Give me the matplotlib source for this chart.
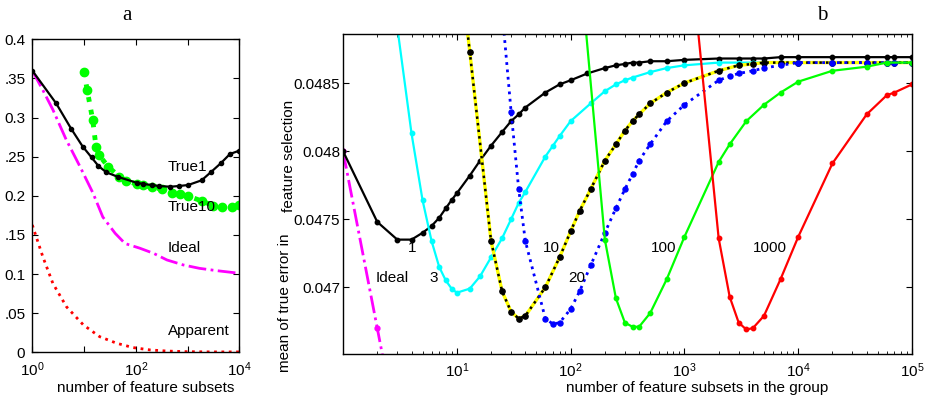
import numpy as np
import matplotlib
matplotlib.use('Agg')
import matplotlib.pyplot as plt
from matplotlib.ticker import LogLocator, NullLocator, FixedLocator, FixedFormatter, NullFormatter

plt.rcParams['font.family'] = ['Liberation Sans', 'DejaVu Sans']
plt.rcParams['mathtext.default'] = 'regular'
plt.rcParams['font.size'] = 11

# ---------------- panel a data ----------------
a_true1_x = [1, 2.9, 5.6, 9.4, 14, 19, 27, 46, 104, 140, 203, 285, 460, 684, 1030, 1870, 2800, 4370, 6600, 10000]
a_true1_y = [0.360, 0.318, 0.286, 0.263, 0.249, 0.238, 0.230, 0.224, 0.2167, 0.2151, 0.2138, 0.2125, 0.2116,
             0.2125, 0.2138, 0.2198, 0.230, 0.2415, 0.2534, 0.2577]
a_true10_x = [10, 11.5, 14.7, 17, 19.5, 29.5, 48, 66, 104, 140, 203, 316, 490, 710, 1030, 1870, 3160, 4600, 7200, 10000]
a_true10_y = [0.3586, 0.335, 0.297, 0.263, 0.252, 0.237, 0.2244, 0.219, 0.215, 0.2134, 0.2108, 0.2087, 0.204,
              0.2019, 0.1997, 0.1934, 0.1875, 0.186, 0.186, 0.188]
a_ideal_x = [1, 1.6, 2.5, 4.5, 8.4, 15, 23, 40, 62, 120, 220, 400, 830, 1700, 3700, 10000]
a_ideal_y = [0.36, 0.335, 0.31, 0.272, 0.237, 0.203, 0.173, 0.152, 0.139, 0.133, 0.1265, 0.118, 0.1116,
             0.1073, 0.1043, 0.101]
a_app_x = [1, 1.6, 2.5, 4.6, 9.7, 20, 43, 89, 190, 400, 1000, 3000, 10000]
a_app_y = [0.1627, 0.122, 0.088, 0.058, 0.035, 0.020, 0.0115, 0.006, 0.003, 0.0016, 0.0008, 0.0005, 0.0005]
a_yticks = [0, 0.05, 0.1, 0.15, 0.2, 0.25, 0.3, 0.35, 0.4]
a_yticklabels = ['0', '.05', '0.1', '.15', '0.2', '.25', '0.3', '.35', '0.4']

# ---------------- panel b data ----------------
b_ideal_x = [1, 2, 3]
b_ideal_y = [0.04800, 0.04670, 0.04594]

b1_x = [1, 2, 3, 4, 5, 6, 7, 8, 9, 10, 13, 16, 20, 25, 30, 35, 40, 60, 80, 100, 140, 200, 250, 300, 350, 400,
        500, 700, 1000, 2000, 3000, 4000, 5000, 7000, 10000, 20000, 40000, 60000, 70000, 100000]
b1_y = [0.04800, 0.04748, 0.04735, 0.04735, 0.04740, 0.04745, 0.04751, 0.04758, 0.04764, 0.04769, 0.04782,
        0.04793, 0.04804, 0.04814, 0.04822, 0.04827, 0.04832, 0.04843, 0.04849, 0.04852, 0.04857, 0.04861,
        0.04863, 0.04864, 0.04865, 0.04865, 0.04866, 0.04866, 0.04867, 0.04868, 0.04868, 0.04868, 0.04868,
        0.04869, 0.04869, 0.04869, 0.04869, 0.04869, 0.04869, 0.04869]

b3_x = [3, 4, 5, 6, 7, 8, 9, 10, 13, 16, 20, 25, 30, 35, 40, 60, 70, 80, 100, 150, 200, 250, 300, 350, 500,
        700, 1000, 2000, 3000, 4000, 5000, 7000, 10000, 20000, 40000, 60000, 70000, 100000]
b3_y = [0.04891, 0.04813, 0.04764, 0.04734, 0.04715, 0.04705, 0.04699, 0.04696, 0.04699, 0.04708, 0.04722,
        0.04736, 0.04750, 0.04762, 0.04770, 0.04796, 0.04804, 0.04811, 0.04822, 0.04835, 0.04844, 0.04849,
        0.04852, 0.04854, 0.04858, 0.04861, 0.04863, 0.04865, 0.04865, 0.04865, 0.04865, 0.04865, 0.04865,
        0.04865, 0.04865, 0.04865, 0.04865, 0.04865]

b10_x = [12, 13, 20, 25, 30, 35, 40, 60, 80, 100, 120, 150, 200, 250, 300, 350, 400, 500, 700, 1000, 2000,
         3000, 4000, 5000, 7000, 10000, 20000, 40000, 60000, 70000, 100000]
b10_y = [0.04898, 0.04873, 0.04734, 0.04697, 0.04682, 0.04677, 0.04679, 0.04700, 0.04722, 0.04741, 0.04756,
         0.04772, 0.04793, 0.04805, 0.04815, 0.04822, 0.04827, 0.04835, 0.04843, 0.04850, 0.04859, 0.04863,
         0.04864, 0.04865, 0.04865, 0.04865, 0.04865, 0.04865, 0.04865, 0.04865, 0.04865]

b20_x = [25, 30, 35, 40, 60, 70, 80, 100, 120, 150, 200, 250, 300, 350, 400, 500, 700, 1000, 2000, 2500, 3000,
         4000, 5000, 7000, 10000, 20000, 40000, 60000, 70000, 100000]
b20_y = [0.04903, 0.04829, 0.04772, 0.04734, 0.04677, 0.04673, 0.04674, 0.04684, 0.04697, 0.04716, 0.04740,
         0.04758, 0.04772, 0.04783, 0.04793, 0.04805, 0.04822, 0.04834, 0.04852, 0.04855, 0.04857, 0.04859,
         0.04861, 0.04863, 0.04865, 0.04865, 0.04865, 0.04865, 0.04865, 0.04865]

b100_x = [120, 200, 250, 300, 350, 400, 500, 700, 1000, 2000, 2500, 3500, 5000, 7000, 10000, 20000, 40000,
          60000, 100000]
b100_y = [0.0494, 0.04735, 0.04692, 0.04674, 0.04671, 0.04671, 0.04681, 0.04706, 0.04737, 0.04792, 0.04805,
          0.04822, 0.04834, 0.04843, 0.04851, 0.04859, 0.04862, 0.04865, 0.04865]

b1000_x = [1200, 2000, 2500, 3000, 3500, 4000, 5000, 7000, 10000, 20000, 40000, 60000, 70000, 100000]
b1000_y = [0.04923, 0.04736, 0.04693, 0.04674, 0.04669, 0.04670, 0.04679, 0.04706, 0.04737, 0.04791,
           0.04827, 0.04841, 0.04843, 0.04849]

b_yticks = [0.047, 0.0475, 0.048, 0.0485]
b_yticklabels = ['0.047', '0.0475', '0.048', '0.0485']

W, H = 929., 400.
fig = plt.figure(figsize=(W / 100, H / 100), dpi=100)

def box(ax):
    for s in ax.spines.values():
        s.set_linewidth(1.0)
    ax.tick_params(which='both', direction='in', top=True, right=True, labelsize=11)
    ax.tick_params(which='major', length=4, width=0.8)
    ax.tick_params(which='minor', length=2.5, width=0.6)

# ---------- panel a ----------
axa = fig.add_axes([32.3 / W, 1 - 352.3 / H, 207 / W, 313 / H])
axa.set_xscale('log')
axa.plot(a_app_x, a_app_y, color='red', ls=':', lw=2)
axa.plot(a_ideal_x, a_ideal_y, color='magenta', ls='-.', lw=2)
axa.plot(a_true10_x, a_true10_y, color='#00ff00', ls=':', lw=3.5, marker='o', ms=6)
axa.plot(a_true1_x, a_true1_y, color='black', ls='-', lw=1.6, marker='o', ms=3)
axa.set_xlim(1, 1e4)
axa.set_ylim(0, 0.4)
axa.xaxis.set_major_locator(FixedLocator([1, 10, 100, 1000, 10000]))
axa.xaxis.set_major_formatter(FixedFormatter(['$10^{0}$', '', '$10^{2}$', '', '$10^{4}$']))
axa.xaxis.set_minor_locator(NullLocator())
axa.set_yticks(a_yticks)
axa.set_yticklabels(a_yticklabels)
box(axa)
axa.tick_params(axis='y', pad=5)
axa.tick_params(axis='x', pad=6)
axa.text(413, 0.2373, 'True1', ha='left', va='center', fontsize=11)
axa.text(413, 0.1853, 'True10', ha='left', va='center', fontsize=11)
axa.text(413, 0.1329, 'Ideal', ha='left', va='center', fontsize=11)
axa.text(413, 0.0272, 'Apparent', ha='left', va='center', fontsize=11)

# ---------- panel b ----------
axb = fig.add_axes([343 / W, 1 - 354 / H, 569 / W, 320 / H])
axb.set_xscale('log')
axb.plot(b_ideal_x, b_ideal_y, color='magenta', ls='-.', lw=2, marker='o', ms=3.5)
axb.plot(b1_x, b1_y, color='black', lw=1.6, marker='o', ms=3.2)
axb.plot(b3_x, b3_y, color='cyan', lw=1.6, marker='o', ms=3.2)
axb.plot(b10_x, b10_y, color='yellow', lw=2.4)
axb.plot(b10_x, b10_y, color='black', ls=':', lw=1.8, marker='o', ms=3.8)
axb.plot(b20_x, b20_y, color='blue', ls=':', lw=2, marker='o', ms=3.6)
axb.plot(b100_x, b100_y, color='#00ff00', lw=1.6, marker='o', ms=3.2)
axb.plot(b1000_x, b1000_y, color='red', lw=1.6, marker='o', ms=3.2)
axb.set_xlim(1, 1e5)
axb.set_ylim(0.04651, 0.04886)
axb.xaxis.set_major_locator(FixedLocator([10, 100, 1000, 10000, 100000]))
axb.xaxis.set_major_formatter(FixedFormatter(['$10^{1}$', '$10^{2}$', '$10^{3}$', '$10^{4}$', '$10^{5}$']))
axb.xaxis.set_minor_locator(LogLocator(base=10, subs=np.arange(2, 10), numticks=20))
axb.xaxis.set_minor_formatter(NullFormatter())
axb.set_yticks(b_yticks)
axb.set_yticklabels(b_yticklabels)
box(axb)
axb.tick_params(axis='y', pad=2)
axb.tick_params(axis='x', pad=5)
for tx, ty, s in [(4.02, 0.047289, '1'), (2.68, 0.047068, 'Ideal'), (6.22, 0.047068, '3'),
                  (67.3, 0.047289, '10'), (113, 0.047068, '20'), (653, 0.047289, '100'),
                  (5650, 0.047289, '1000')]:
    axb.text(tx, ty, s, ha='center', va='center', fontsize=11)

# labels and titles
fig.text(146 / W, 1 - 388 / H, 'number of feature subsets', ha='center', va='center', fontsize=11)
fig.text(697 / W, 1 - 388 / H, 'number of feature subsets in the group', ha='center', va='center', fontsize=11)
fig.text(285 / W, 1 - 233 / H, 'mean of true error in', rotation=90, ha='center', va='top', fontsize=11)
fig.text(289 / W, 1 - 212 / H, 'feature selection', rotation=90, ha='center', va='bottom', fontsize=11)
fig.text(127 / W, 1 - 15 / H, 'a', ha='center', va='center', fontsize=15, family='Liberation Serif')
fig.text(822 / W, 1 - 15 / H, 'b', ha='center', va='center', fontsize=15, family='Liberation Serif')

fig.savefig('out.png', dpi=100)
